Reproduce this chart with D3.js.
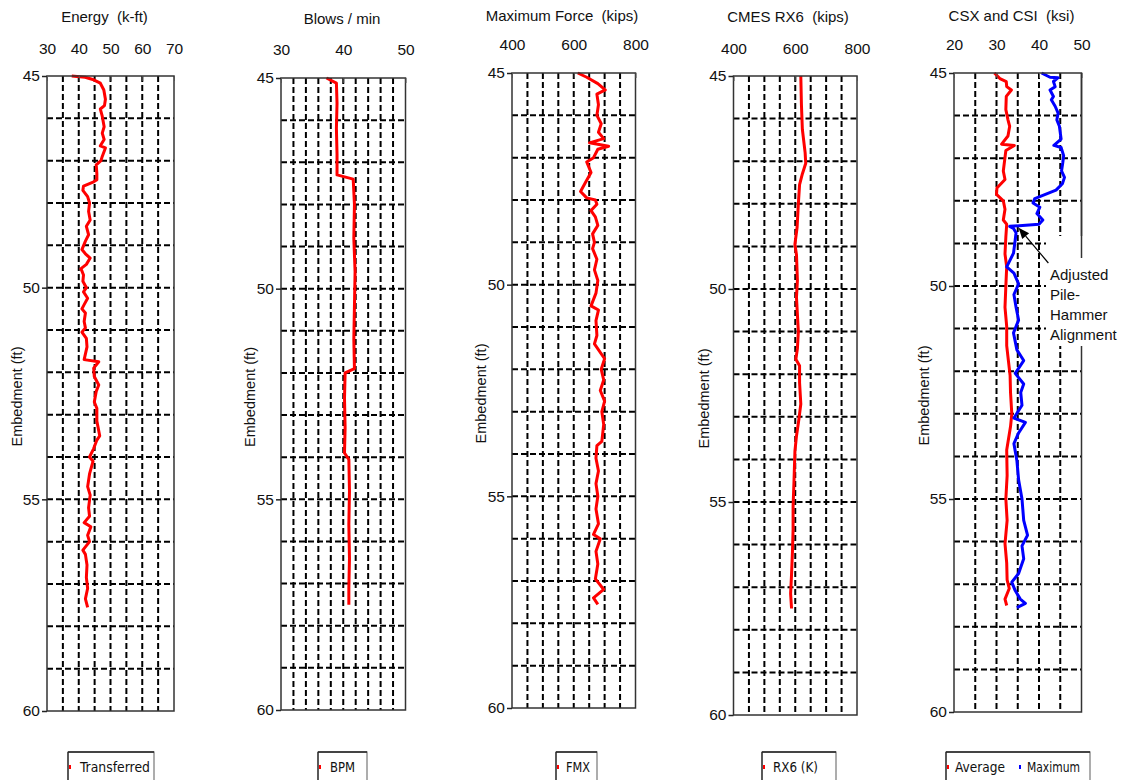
<!DOCTYPE html>
<html><head><meta charset="utf-8">
<script src="https://cdn.jsdelivr.net/npm/d3@7"></script>
<style>
html,body{margin:0;padding:0;background:#fff;}
svg{display:block;font-family:"Liberation Sans",Arial,Helvetica,sans-serif;}
text{white-space:pre;}
</style></head><body>
<svg id="chart" width="1125" height="780"></svg>
<script>
// ---------- DATA (depth ft, value) ----------
const depthTicks = [45, 50, 55, 60];

const energyTicks = [30, 40, 50, 60, 70];
const energyTransferred = [[45.0,37.8],[45.03,42.0],[45.09,44.7],[45.17,46.8],[45.33,47.9],[45.55,48.4],[45.7,48.1],[45.78,46.8],[45.95,47.4],[46.2,48.0],[46.35,47.4],[46.5,48.0],[46.65,46.8],[46.7,48.4],[46.9,47.4],[47.0,47.0],[47.1,45.5],[47.3,45.7],[47.45,45.7],[47.5,44.7],[47.6,41.5],[47.7,41.3],[47.85,42.8],[48.0,43.4],[48.2,43.1],[48.4,43.6],[48.55,42.4],[48.75,43.1],[48.9,42.1],[49.1,41.0],[49.2,42.1],[49.3,43.6],[49.45,42.4],[49.55,40.7],[49.7,41.5],[49.85,41.3],[50.0,42.4],[50.1,41.5],[50.25,42.8],[50.4,41.7],[50.5,41.0],[50.6,42.1],[50.8,41.7],[50.95,42.1],[51.05,41.0],[51.2,42.4],[51.4,42.6],[51.7,41.7],[51.75,46.3],[51.9,44.7],[52.1,44.9],[52.3,46.3],[52.45,45.5],[52.7,44.9],[52.85,45.7],[53.15,45.7],[53.5,46.6],[53.6,45.7],[53.8,44.7],[54.0,43.4],[54.1,44.5],[54.4,43.4],[54.7,42.8],[54.9,43.6],[55.2,43.1],[55.4,43.4],[55.55,41.7],[55.65,43.8],[55.85,42.8],[56.0,43.4],[56.2,41.3],[56.3,42.1],[56.55,42.6],[56.85,42.4],[57.1,42.8],[57.35,42.1],[57.55,42.8]];

const bpmTicks = [30, 40, 50];
const bpmValues = [[45.0,37.3],[45.12,38.9],[45.6,39.0],[46.2,38.9],[46.8,39.0],[47.3,39.0],[47.4,41.6],[48.0,41.8],[48.8,41.7],[49.6,41.9],[50.4,41.8],[51.2,41.7],[51.9,41.8],[52.0,40.3],[52.6,40.2],[53.3,40.3],[53.9,40.2],[54.05,40.9],[54.8,41.0],[55.6,40.9],[56.4,41.0],[57.1,40.9],[57.5,40.9]];

const forceTicks = [400, 600, 800];
const fmxValues = [[45.0,613],[45.1,642],[45.25,678],[45.4,702],[45.5,675],[45.75,680],[46.0,675],[46.2,689],[46.4,680],[46.55,697],[46.65,651],[46.73,713],[46.8,678],[47.0,664],[47.1,642],[47.35,656],[47.6,637],[47.8,622],[47.95,642],[48.0,670],[48.1,675],[48.25,656],[48.4,670],[48.6,678],[48.8,661],[49.0,667],[49.15,661],[49.4,675],[49.65,667],[49.9,678],[50.2,672],[50.5,656],[50.6,680],[50.85,672],[51.2,675],[51.4,667],[51.75,700],[52.0,689],[52.25,697],[52.5,686],[52.75,700],[53.0,691],[53.3,697],[53.7,691],[53.8,675],[54.1,672],[54.4,680],[54.7,672],[55.0,678],[55.3,672],[55.65,680],[55.9,664],[56.0,686],[56.3,672],[56.6,678],[56.95,670],[57.2,697],[57.4,664],[57.55,678]];

const rx6Ticks = [400, 600, 800];
const rx6Values = [[45.0,618],[45.67,620],[46.25,623],[46.8,632],[47.05,634],[47.3,623],[47.55,614],[48.0,610],[48.55,606],[48.95,599],[49.2,604],[49.8,607],[50.2,604],[50.6,607],[51.0,610],[51.4,607],[51.65,602],[51.8,614],[52.2,614],[52.7,618],[53.05,612],[53.45,604],[53.8,599],[54.5,596],[55.1,593],[55.65,593],[56.15,591],[56.7,588],[57.15,585],[57.5,588]];

const stressTicks = [20, 30, 40, 50];
const csxAverage = [[45.0,29.5],[45.13,30.8],[45.2,32.3],[45.32,32.4],[45.4,33.5],[45.55,32.3],[45.86,32.2],[46.1,32.7],[46.25,33.1],[46.48,32.7],[46.67,31.2],[46.7,34.2],[46.82,32.2],[46.98,32.0],[47.3,31.6],[47.5,32.0],[47.7,30.1],[47.85,30.0],[48.0,31.6],[48.2,32.0],[48.45,31.6],[48.55,32.4],[48.85,32.2],[49.25,32.0],[49.55,32.4],[50.0,32.2],[50.5,32.0],[50.95,32.4],[51.4,32.4],[51.75,32.8],[52.1,33.2],[52.5,33.3],[53.0,33.6],[53.3,33.3],[53.85,32.4],[54.45,32.5],[55.0,32.2],[55.5,32.5],[56.05,32.0],[56.5,32.4],[56.9,32.5],[57.1,33.0],[57.35,32.0],[57.5,32.4]];
const csiMaximum = [[45.0,40.6],[45.1,42.6],[45.11,44.5],[45.2,43.4],[45.32,43.8],[45.4,42.6],[45.55,43.4],[45.63,42.9],[45.78,43.8],[45.94,44.5],[46.1,44.2],[46.25,44.8],[46.4,45.0],[46.55,45.2],[46.7,43.5],[46.75,45.2],[46.94,45.8],[47.1,45.6],[47.3,45.3],[47.45,46.0],[47.6,45.5],[47.75,44.0],[47.85,41.5],[47.95,39.0],[48.05,38.6],[48.15,40.2],[48.3,39.5],[48.45,40.9],[48.55,40.0],[48.6,33.1],[48.65,34.0],[48.75,34.6],[48.92,34.4],[49.23,34.0],[49.55,32.4],[49.7,34.1],[49.95,35.2],[50.2,34.1],[50.5,34.6],[50.8,35.2],[51.1,34.0],[51.5,34.8],[51.75,36.4],[52.05,34.4],[52.3,36.4],[52.5,35.7],[52.8,36.0],[53.1,34.1],[53.2,36.8],[53.45,35.2],[53.7,34.1],[54.1,34.8],[54.55,35.2],[55.0,36.0],[55.5,36.4],[55.85,37.3],[56.1,36.0],[56.4,36.4],[56.75,35.2],[56.95,33.6],[57.15,34.4],[57.35,35.6],[57.45,36.8],[57.55,34.8]];

const annotationLines = ["Adjusted", "Pile-", "Hammer", "Alignment"];

// ---------- LAYOUT ----------
const panels = [
  {title:"Energy  (k-ft)", domain:[30,70], ticks:energyTicks, step:5, box:[47,76,174,711], titleX:104.5, titleY:22, tickPad:22, yLabelX:17,
   series:[{data:energyTransferred, color:"#ff0000"}],
   legend:{x:68, w:86, items:[{label:"Transferred", color:"#ff0000", tx:80, mx:69, tw:70}]}},
  {title:"Blows / min", domain:[30,50], ticks:bpmTicks, step:2, box:[281,78,405.5,710], titleX:342, titleY:24, tickPad:23, yLabelX:250,
   series:[{data:bpmValues, color:"#ff0000"}],
   legend:{x:318, w:49, items:[{label:"BPM", color:"#ff0000", tx:330, mx:319, tw:25}]}},
  {title:"Maximum Force  (kips)", domain:[400,800], ticks:forceTicks, step:50, box:[512,73,635.5,708], titleX:562, titleY:21, tickPad:23.5, yLabelX:481,
   series:[{data:fmxValues, color:"#ff0000"}],
   legend:{x:556, w:41, items:[{label:"FMX", color:"#ff0000", tx:566, mx:557, tw:24}]}},
  {title:"CMES RX6  (kips)", domain:[400,800], ticks:rx6Ticks, step:50, box:[733.5,76,857,715], titleX:788, titleY:22, tickPad:22, yLabelX:704,
   series:[{data:rx6Values, color:"#ff0000"}],
   legend:{x:762, w:74, items:[{label:"RX6 (K)", color:"#ff0000", tx:773, mx:763, tw:45}]}},
  {title:"CSX and CSI  (ksi)", domain:[20,50], ticks:stressTicks, step:5, box:[954,73,1081.5,712], titleX:1011.5, titleY:21, tickPad:23, yLabelX:924,
   series:[{data:csxAverage, color:"#ff0000"},{data:csiMaximum, color:"#0000ff"}],
   legend:{x:946, w:144, items:[{label:"Average", color:"#ff0000", tx:955, mx:947, tw:50},{label:"Maximum", color:"#0000ff", tx:1027, mx:1019, tw:53}]}}
];

const svg = d3.select("#chart");

panels.forEach((p, i) => {
  const [x0, y0, x1, y1] = p.box;
  const x = d3.scaleLinear().domain(p.domain).range([x0, x1]);
  const y = d3.scaleLinear().domain([45, 60]).range([y0, y1]);
  const g = svg.append("g");

  // grid
  const vGrid = d3.range(p.domain[0] + p.step, p.domain[1] - p.step / 2, p.step);
  const hGrid = d3.range(46, 60, 1);
  g.append("g").selectAll("line").data(vGrid).join("line")
    .attr("x1", d => x(d)).attr("x2", d => x(d)).attr("y1", y0).attr("y2", y1)
    .attr("stroke", "#000").attr("stroke-width", 2).attr("stroke-dasharray", "6,3");
  g.append("g").selectAll("line").data(hGrid).join("line")
    .attr("x1", x0).attr("x2", x1).attr("y1", d => y(d)).attr("y2", d => y(d))
    .attr("stroke", "#000").attr("stroke-width", 2).attr("stroke-dasharray", "6,3");

  // series
  const line = d3.line().x(d => x(d[1])).y(d => y(d[0]));
  p.series.forEach(s => {
    g.append("path").datum(s.data).attr("d", line)
      .attr("fill", "none").attr("stroke", s.color).attr("stroke-width", 3)
      .attr("stroke-linejoin", "round");
  });

  // frame
  g.append("rect").attr("x", x0).attr("y", y0).attr("width", x1 - x0).attr("height", y1 - y0)
    .attr("fill", "none").attr("stroke", "#333").attr("stroke-width", 1.5);

  // top axis
  const top = g.append("g").attr("transform", `translate(0,${y0})`)
    .call(d3.axisTop(x).tickValues(p.ticks).tickSize(-5).tickPadding(p.tickPad));
  top.select(".domain").remove();
  top.selectAll(".tick line").attr("stroke", "#555").attr("stroke-width", 1);
  top.selectAll(".tick text").attr("font-size", 15.5).attr("fill", "#111")
    .attr("font-family", "Liberation Sans, Arial, sans-serif");

  // left axis
  const left = g.append("g").attr("transform", `translate(${x0},0)`)
    .call(d3.axisLeft(y).tickValues(depthTicks).tickSize(5).tickPadding(2));
  left.select(".domain").remove();
  left.selectAll(".tick line").attr("stroke", "#222").attr("stroke-width", 1.5);
  left.selectAll(".tick text").attr("font-size", 15.5).attr("fill", "#111")
    .attr("font-family", "Liberation Sans, Arial, sans-serif");

  // title
  g.append("text").attr("x", p.titleX).attr("y", p.titleY).attr("text-anchor", "middle")
    .attr("font-size", 15).attr("fill", "#111").text(p.title);

  // y label
  g.append("text").attr("transform", `translate(${p.yLabelX + 5},${(y0 + y1) / 2 + 3}) rotate(-90)`)
    .attr("text-anchor", "middle").attr("font-size", 14.5).attr("fill", "#111").text("Embedment (ft)");

  // legend
  const L = p.legend;
  const lg = svg.append("g");
  lg.append("rect").attr("x", L.x).attr("y", 752).attr("width", L.w).attr("height", 40)
    .attr("fill", "#fff").attr("stroke", "#777").attr("stroke-width", 1.2);
  lg.append("line").attr("x1", L.x).attr("x2", L.x + L.w).attr("y1", 752).attr("y2", 752)
    .attr("stroke", "#222").attr("stroke-width", 1.6);
  lg.append("line").attr("x1", L.x).attr("x2", L.x).attr("y1", 752).attr("y2", 780)
    .attr("stroke", "#222").attr("stroke-width", 1.2);
  L.items.forEach(it => {
    lg.append("rect").attr("x", it.mx).attr("y", 765).attr("width", 2).attr("height", 4).attr("fill", it.color);
    lg.append("text").attr("x", it.tx).attr("y", 772).attr("font-size", 14.5)
      .attr("font-family", "Liberation Sans Narrow, DejaVu Sans Condensed, Liberation Sans, sans-serif")
      .attr("textLength", it.tw).attr("lengthAdjust", "spacingAndGlyphs")
      .attr("fill", "#111").text(it.label);
  });

  // annotation on last panel
  if (i === 4) {
    const ax = g.append("g");
    ax.append("rect").attr("x", 1046).attr("y", 236).attr("width", 79).attr("height", 110).attr("fill", "#fff");
    ax.append("line").attr("x1", x1).attr("x2", x1).attr("y1", y0).attr("y2", 258)
      .attr("stroke", "#333").attr("stroke-width", 1.5);
    const tip = [x(35.2), y(48.63)], tail = [x(42.2), y(49.46)];
    const ang = Math.atan2(tip[1] - tail[1], tip[0] - tail[0]);
    const hl = 11, hw = 4.5;
    const bx = tip[0] - hl * Math.cos(ang), by = tip[1] - hl * Math.sin(ang);
    ax.append("line").attr("x1", tail[0]).attr("y1", tail[1]).attr("x2", bx).attr("y2", by)
      .attr("stroke", "#000").attr("stroke-width", 1.2);
    ax.append("path").attr("d", `M${tip[0]},${tip[1]} L${bx + hw * Math.sin(ang)},${by - hw * Math.cos(ang)} L${bx - hw * Math.sin(ang)},${by + hw * Math.cos(ang)} Z`)
      .attr("fill", "#000");
    ax.selectAll("text.ann").data(annotationLines).join("text").attr("class", "ann")
      .attr("x", 1050).attr("y", (d, k) => 280 + k * 20).attr("font-size", 15).attr("fill", "#111").text(d => d);
  }
});
</script>
</body></html>
